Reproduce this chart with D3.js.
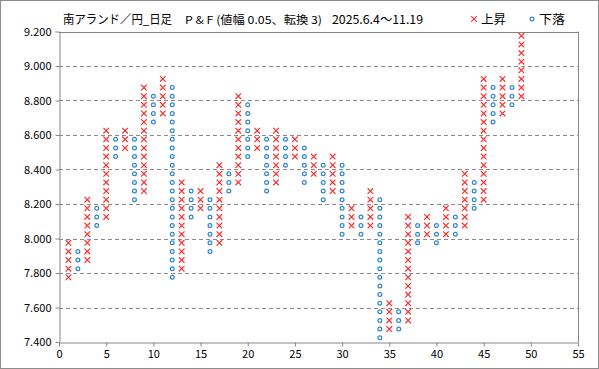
<!DOCTYPE html>
<html><head><meta charset="utf-8">
<script src="https://cdn.jsdelivr.net/npm/d3@7"></script>
<style>body{margin:0;background:#fff}svg{display:block}</style>
</head><body>
<svg id="c" width="599" height="369"></svg>
<script>
// P&F columns: type, lowest box value, highest box value
const colTypes = ["X","O","X","O","X","O","X","O","X","O","X","O","X","O","X","O","X","O","X","O","X","O","X","O","X","O","X","O","X","O","X","O","X","O","X","O","X","O","X","O","X","O","X","O","X","O","X","O","X"];
const colLow  = [7.775,7.825,7.875,8.075,8.125,8.475,8.525,8.225,8.275,8.675,8.725,7.775,7.825,8.125,8.175,7.925,7.975,8.275,8.325,8.475,8.525,8.275,8.325,8.425,8.475,8.325,8.375,8.225,8.275,8.025,8.075,8.025,8.075,7.425,7.475,7.475,7.525,7.975,8.025,7.975,8.025,8.025,8.075,8.175,8.225,8.675,8.725,8.775,8.825];
const colHigh = [7.975,7.925,8.225,8.175,8.625,8.575,8.625,8.575,8.875,8.825,8.925,8.875,8.325,8.275,8.275,8.225,8.425,8.375,8.825,8.775,8.625,8.575,8.625,8.575,8.575,8.525,8.475,8.425,8.475,8.425,8.175,8.125,8.275,8.225,7.625,7.575,8.125,8.075,8.125,8.075,8.175,8.125,8.375,8.325,8.925,8.875,8.925,8.875,9.175];
const boxSize = 0.05;
const yTicks = [7.4,7.6,7.8,8.0,8.2,8.4,8.6,8.8,9.0,9.2];
const xTicks = [0,5,10,15,20,25,30,35,40,45,50,55];
const titleMain = "南アランド／円_日足";
const titleSub = "P & F (値幅 0.05、転換 3)";
const titleDate = "2025.6.4〜11.19";
const legendUp = "上昇", legendDown = "下落";

const svg = d3.select("#c");
const W = 599, H = 369;
const L = 59, R = 578, T = 31.5, B = 342;
const red = "#ff2a2a", blue = "#2f86cc", axisCol = "#868686";
const font = "'Noto Sans CJK JP','Noto Sans',sans-serif";

svg.append("rect").attr("x",0.5).attr("y",0.5).attr("width",W-1).attr("height",H-1)
  .attr("fill","#fff").attr("stroke","#8c8c8c");

const x = d3.scaleLinear().domain([0,55]).range([L,R]);
const y = d3.scaleLinear().domain([7.4,9.2]).range([B,T]);

// gridlines
svg.append("g").selectAll("line").data(yTicks.filter(v=>v>7.4 && v<9.2)).join("line")
  .attr("x1",L).attr("x2",R).attr("y1",d=>Math.round(y(d))+0.5).attr("y2",d=>Math.round(y(d))+0.5)
  .attr("stroke","#8a8a8a").attr("stroke-dasharray","4,3").attr("stroke-width",1);

// plot border top/right
svg.append("line").attr("x1",L).attr("x2",R+0.5).attr("y1",Math.round(T)+0.5).attr("y2",Math.round(T)+0.5).attr("stroke",axisCol);
svg.append("line").attr("x1",Math.round(R)+0.5).attr("x2",Math.round(R)+0.5).attr("y1",T).attr("y2",B).attr("stroke",axisCol);

// axes
const yAxis = svg.append("g").attr("transform",`translate(${Math.round(L)+0.5},0)`)
  .call(d3.axisLeft(y).tickValues(yTicks).tickFormat(d3.format(".3f")).tickSize(4).tickSizeOuter(0));
const xAxis = svg.append("g").attr("transform",`translate(0,${Math.round(B)+0.5})`)
  .call(d3.axisBottom(x).tickValues(xTicks).tickSize(4).tickSizeOuter(0));
[yAxis,xAxis].forEach(g=>{
  g.selectAll("path,line").attr("stroke",axisCol);
  g.selectAll("text").attr("fill","#000").style("font-family",font).style("font-size","11px");
});
yAxis.selectAll("text").attr("x",-8);
xAxis.selectAll("text").attr("y",8);

// marks
const marks = [];
colTypes.forEach((t,i)=>{
  const n = Math.round((colHigh[i]-colLow[i])/boxSize);
  for(let k=0;k<=n;k++) marks.push({col:i+1,t,v:colLow[i]+k*boxSize});
});
const s = 2.8;
const gX = svg.append("g").attr("stroke",red).attr("stroke-width",1.1);
marks.filter(m=>m.t==="X").forEach(m=>{
  const cx = x(m.col), cy = y(m.v);
  gX.append("path").attr("d",`M${cx-s},${cy-s}L${cx+s},${cy+s}M${cx-s},${cy+s}L${cx+s},${cy-s}`);
});
svg.append("g").selectAll("circle").data(marks.filter(m=>m.t==="O")).join("circle")
  .attr("cx",m=>x(m.col)).attr("cy",m=>y(m.v)).attr("r",1.9)
  .attr("fill","#fff").attr("stroke",blue).attr("stroke-width",1.2);

// title
const ty = 24;
function txt(str,x0,len,fs){
  svg.append("text").attr("x",x0).attr("y",ty).attr("textLength",len).attr("lengthAdjust","spacingAndGlyphs")
    .style("font-family",font).style("font-size",fs+"px").attr("fill","#000").text(str);
}
txt(titleMain,63,109,12);
txt(titleSub,185,137,11);
txt(titleDate,332,91,12);

// legend
const ly = 19;
const lx1 = 474;
svg.append("path").attr("d",`M${lx1-s},${ly-s}L${lx1+s},${ly+s}M${lx1-s},${ly+s}L${lx1+s},${ly-s}`).attr("stroke",red).attr("stroke-width",1.1);
txt(legendUp,481,25,12.5);
const lx2 = 532;
svg.append("circle").attr("cx",lx2).attr("cy",ly).attr("r",1.9).attr("fill","#fff").attr("stroke",blue).attr("stroke-width",1.2);
txt(legendDown,539,26,12.5);
</script>
</body></html>
